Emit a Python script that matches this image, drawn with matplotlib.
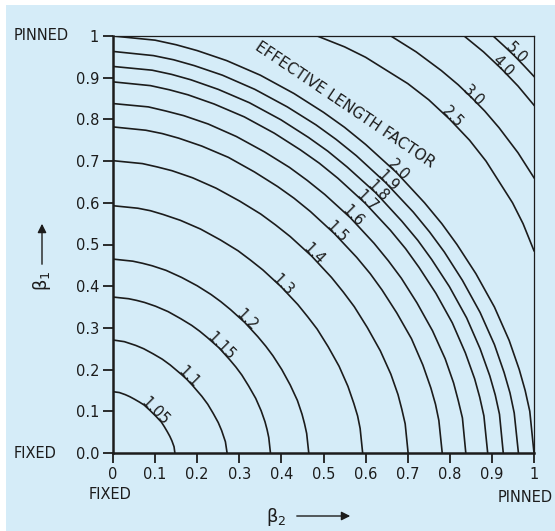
import matplotlib
matplotlib.use('Agg')
import matplotlib.pyplot as plt
from matplotlib.patches import Rectangle

plt.rcParams['font.family'] = ['DejaVu Sans']

# effective length factor of each curve
k_labels = ['1.05', '1.1', '1.15', '1.2', '1.3', '1.4', '1.5', '1.6',
            '1.7', '1.8', '1.9', '2.0', '2.5', '3.0', '4.0', '5.0']

# beta2 (x) of points
curve_b2 = [
    [0, 0.015, 0.029, 0.040, 0.051, 0.063, 0.074, 0.088, 0.095, 0.102, 0.115, 0.122, 0.129, 0.135, 0.140, 0.145, 0.147],
    [0, 0.027, 0.054, 0.073, 0.095, 0.117, 0.136, 0.163, 0.176, 0.188, 0.211, 0.225, 0.238, 0.250, 0.258, 0.267, 0.271],
    [0, 0.037, 0.056, 0.075, 0.101, 0.131, 0.161, 0.187, 0.206, 0.224, 0.252, 0.277, 0.292, 0.306, 0.322, 0.339, 0.352, 0.361, 0.366, 0.370, 0.374],
    [0, 0.047, 0.070, 0.093, 0.126, 0.163, 0.200, 0.233, 0.256, 0.279, 0.313, 0.344, 0.363, 0.380, 0.401, 0.421, 0.438, 0.449, 0.455, 0.460, 0.465],
    [0, 0.059, 0.089, 0.119, 0.160, 0.208, 0.255, 0.297, 0.326, 0.356, 0.399, 0.439, 0.463, 0.485, 0.511, 0.537, 0.558, 0.572, 0.581, 0.587, 0.593],
    [0, 0.070, 0.105, 0.140, 0.189, 0.245, 0.301, 0.351, 0.386, 0.421, 0.472, 0.519, 0.547, 0.573, 0.604, 0.635, 0.660, 0.677, 0.686, 0.694, 0.701],
    [0, 0.078, 0.117, 0.156, 0.211, 0.274, 0.336, 0.391, 0.430, 0.469, 0.526, 0.579, 0.611, 0.639, 0.674, 0.709, 0.736, 0.755, 0.766, 0.774, 0.782],
    [0, 0.084, 0.126, 0.168, 0.226, 0.293, 0.360, 0.419, 0.461, 0.503, 0.564, 0.620, 0.654, 0.685, 0.722, 0.759, 0.789, 0.809, 0.820, 0.830, 0.838],
    [0, 0.089, 0.134, 0.178, 0.240, 0.312, 0.383, 0.445, 0.490, 0.534, 0.599, 0.659, 0.695, 0.727, 0.767, 0.806, 0.837, 0.859, 0.871, 0.881, 0.890],
    [0, 0.093, 0.139, 0.185, 0.250, 0.324, 0.399, 0.464, 0.510, 0.556, 0.624, 0.686, 0.724, 0.757, 0.799, 0.840, 0.872, 0.895, 0.908, 0.918, 0.927],
    [0, 0.096, 0.144, 0.193, 0.260, 0.337, 0.414, 0.482, 0.530, 0.578, 0.648, 0.713, 0.752, 0.787, 0.830, 0.872, 0.906, 0.929, 0.943, 0.953, 0.963],
    [0, 0.100, 0.150, 0.200, 0.270, 0.350, 0.430, 0.500, 0.550, 0.600, 0.673, 0.740, 0.781, 0.817, 0.862, 0.906, 0.941, 0.965, 0.979, 0.990, 1.000],
    [0.485, 0.55, 0.60, 0.70, 0.75, 0.80, 0.847, 0.886, 0.949, 0.974, 1.0],
    [0.66, 0.72, 0.78, 0.82, 0.852, 0.883, 0.917, 0.962, 1.0],
    [0.834, 0.88, 0.922, 0.962, 1.0],
    [0.903, 0.93, 0.953, 0.975, 1.0],
]

# beta1 (y) of the same points
curve_b1 = [
    [0.147, 0.145, 0.140, 0.135, 0.129, 0.122, 0.115, 0.102, 0.095, 0.088, 0.074, 0.063, 0.051, 0.040, 0.029, 0.015, 0],
    [0.271, 0.267, 0.258, 0.250, 0.238, 0.225, 0.211, 0.188, 0.176, 0.163, 0.136, 0.117, 0.095, 0.073, 0.054, 0.027, 0],
    [0.374, 0.370, 0.366, 0.361, 0.352, 0.339, 0.322, 0.306, 0.292, 0.277, 0.252, 0.224, 0.206, 0.187, 0.161, 0.131, 0.101, 0.075, 0.056, 0.037, 0],
    [0.465, 0.460, 0.455, 0.449, 0.438, 0.421, 0.401, 0.380, 0.363, 0.344, 0.313, 0.279, 0.256, 0.233, 0.200, 0.163, 0.126, 0.093, 0.070, 0.047, 0],
    [0.593, 0.587, 0.581, 0.572, 0.558, 0.537, 0.511, 0.485, 0.463, 0.439, 0.399, 0.356, 0.326, 0.297, 0.255, 0.208, 0.160, 0.119, 0.089, 0.059, 0],
    [0.701, 0.694, 0.686, 0.677, 0.660, 0.635, 0.604, 0.573, 0.547, 0.519, 0.472, 0.421, 0.386, 0.351, 0.301, 0.245, 0.189, 0.140, 0.105, 0.070, 0],
    [0.782, 0.774, 0.766, 0.755, 0.736, 0.709, 0.674, 0.639, 0.611, 0.579, 0.526, 0.469, 0.430, 0.391, 0.336, 0.274, 0.211, 0.156, 0.117, 0.078, 0],
    [0.838, 0.830, 0.820, 0.809, 0.789, 0.759, 0.722, 0.685, 0.654, 0.620, 0.564, 0.503, 0.461, 0.419, 0.360, 0.293, 0.226, 0.168, 0.126, 0.084, 0],
    [0.890, 0.881, 0.871, 0.859, 0.837, 0.806, 0.767, 0.727, 0.695, 0.659, 0.599, 0.534, 0.490, 0.445, 0.383, 0.312, 0.240, 0.178, 0.134, 0.089, 0],
    [0.927, 0.918, 0.908, 0.895, 0.872, 0.840, 0.799, 0.757, 0.724, 0.686, 0.624, 0.556, 0.510, 0.464, 0.399, 0.324, 0.250, 0.185, 0.139, 0.093, 0],
    [0.963, 0.953, 0.943, 0.929, 0.906, 0.872, 0.830, 0.787, 0.752, 0.713, 0.648, 0.578, 0.530, 0.482, 0.414, 0.337, 0.260, 0.193, 0.144, 0.096, 0],
    [1.000, 0.990, 0.979, 0.965, 0.941, 0.906, 0.862, 0.817, 0.781, 0.740, 0.673, 0.600, 0.550, 0.500, 0.430, 0.350, 0.270, 0.200, 0.150, 0.100, 0],
    [1.0, 0.974, 0.949, 0.886, 0.847, 0.80, 0.75, 0.70, 0.60, 0.55, 0.485],
    [1.0, 0.962, 0.917, 0.883, 0.852, 0.82, 0.78, 0.72, 0.66],
    [1.0, 0.962, 0.922, 0.88, 0.834],
    [1.0, 0.975, 0.953, 0.93, 0.903],
]

ticks = [0, 0.1, 0.2, 0.3, 0.4, 0.5, 0.6, 0.7, 0.8, 0.9, 1.0]
x_ticklabels = ['0', '0.1', '0.2', '0.3', '0.4', '0.5', '0.6', '0.7', '0.8', '0.9', '1']
y_ticklabels = ['0.0', '0.1', '0.2', '0.3', '0.4', '0.5', '0.6', '0.7', '0.8', '0.9', '1']

bg = '#d5ecf8'
ink = '#1c1c1c'
fs = 10.5

fig = plt.figure(figsize=(5.55, 5.31), dpi=100, facecolor='white')
fig.patches.append(Rectangle((6 / 555, 0), 1, 526 / 531, transform=fig.transFigure,
                             facecolor=bg, edgecolor='none', zorder=-5))
ax = fig.add_axes([113 / 555, 78 / 531, 421 / 555, 417 / 531])
ax.set_zorder(2)
ax.set_facecolor(bg)

# curves with their labels
for b2, b1, lab in zip(curve_b2, curve_b1, k_labels):
    ax.plot(b2, b1, color=ink, lw=1.2, solid_joinstyle='round')
    i = len(b2) // 2
    ax.annotate(lab, (b2[i], b1[i]), xytext=(1.5, 1.5), textcoords='offset points',
                rotation=-45, rotation_mode='anchor', ha='center', va='center',
                fontsize=fs, color=ink)

ax.text(0.551, 0.835, 'EFFECTIVE LENGTH FACTOR', rotation=-34, rotation_mode='anchor',
        ha='center', va='center', fontsize=11, color=ink)

ax.set_xlim(0, 1)
ax.set_ylim(0, 1)
ax.set_xticks(ticks)
ax.set_xticklabels(x_ticklabels)
ax.set_yticks(ticks)
ax.set_yticklabels(y_ticklabels)
ax.tick_params(direction='out', length=7, width=1.3, labelsize=fs, pad=3, colors=ink)
for side in ['left', 'bottom']:
    ax.spines[side].set_linewidth(1.8)
    ax.spines[side].set_color(ink)
for side in ['top', 'right']:
    ax.spines[side].set_linewidth(0.9)
    ax.spines[side].set_color(ink)

# end condition labels
ax.text(-0.237, 1.0, 'PINNED', transform=ax.transAxes, ha='left', va='center', fontsize=fs, color=ink)
ax.text(-0.237, 0.0, 'FIXED', transform=ax.transAxes, ha='left', va='center', fontsize=fs, color=ink)
ax.text(-0.007, -0.1, 'FIXED', transform=ax.transAxes, ha='center', va='center', fontsize=fs, color=ink)
ax.text(0.914, -0.107, 'PINNED', transform=ax.transAxes, ha='left', va='center', fontsize=fs, color=ink)

# axis names with arrows
fig.text(276 / 555, 14 / 531, r'$\mathrm{\beta}_2$', ha='center', va='center', fontsize=13, color=ink)
fig.text(42 / 555, 250 / 531, r'$\mathrm{\beta}_1$', ha='center', va='center', fontsize=13, color=ink, rotation=90)
ax.annotate('', xy=(353, 15), xytext=(294, 15), xycoords='figure pixels', textcoords='figure pixels',
            arrowprops=dict(arrowstyle='-|>', color=ink, lw=1, mutation_scale=13))
ax.annotate('', xy=(42, 310), xytext=(42, 264), xycoords='figure pixels', textcoords='figure pixels',
            arrowprops=dict(arrowstyle='-|>', color=ink, lw=1, mutation_scale=13))

fig.savefig('out.png', dpi=100, facecolor=fig.get_facecolor())
